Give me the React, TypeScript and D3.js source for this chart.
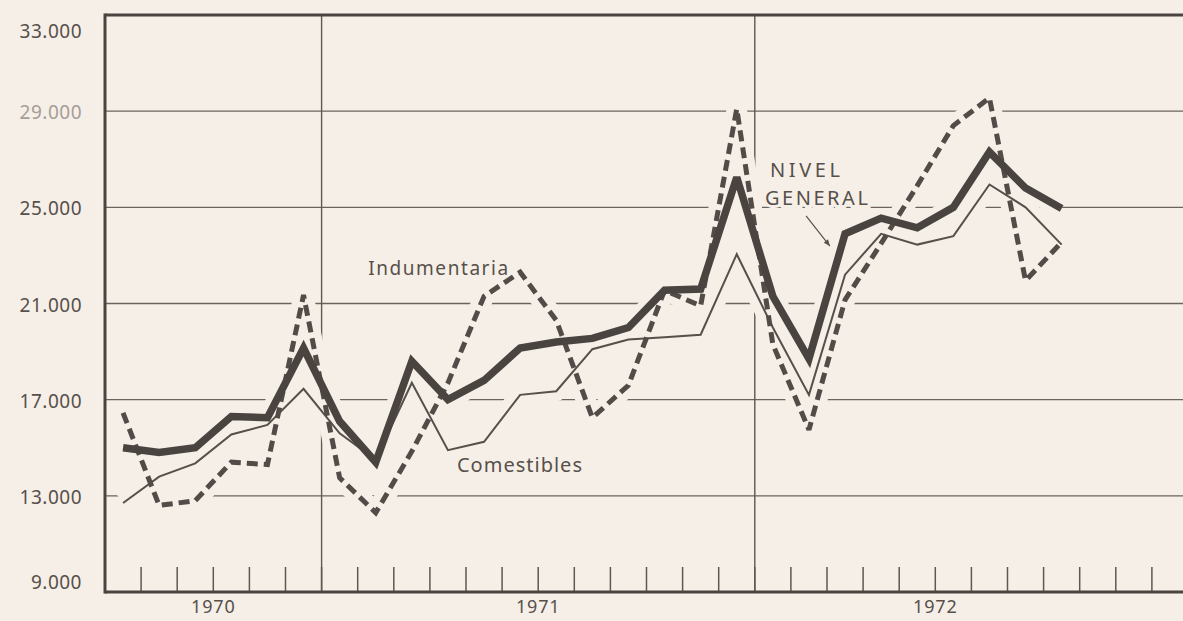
import React from "react";
import * as d3 from "d3";

// Months (mid-month points), July 1970 – September 1972
const months = [
  "Jul 1970", "Ago 1970", "Sep 1970", "Oct 1970", "Nov 1970", "Dic 1970",
  "Ene 1971", "Feb 1971", "Mar 1971", "Abr 1971", "May 1971", "Jun 1971",
  "Jul 1971", "Ago 1971", "Sep 1971", "Oct 1971", "Nov 1971", "Dic 1971",
  "Ene 1972", "Feb 1972", "Mar 1972", "Abr 1972", "May 1972", "Jun 1972",
  "Jul 1972", "Ago 1972", "Sep 1972",
];

const nivelGeneral = [
  15000, 14800, 15000, 16300, 16250, 19150,
  16100, 14400, 18600, 17000, 17800, 19150,
  19400, 19550, 20000, 21550, 21600, 26250,
  21300, 18700, 23900, 24550, 24150, 25000,
  27300, 25800, 24950,
];

const comestibles = [
  12700, 13800, 14350, 15550, 15950, 17450,
  15600, 14500, 17700, 14900, 15250, 17200,
  17350, 19100, 19500, 19600, 19700, 23050,
  20000, 17200, 22200, 23900, 23450, 23800,
  25950, 25000, 23450,
];

const indumentaria = [
  16450, 12600, 12800, 14400, 14300, 21350,
  13750, 12300, 14850, 17700, 21300, 22300,
  20300, 16250, 17600, 21550, 20900, 29100,
  19300, 15750, 21150, 23500, 25900, 28400,
  29550, 21950, 23550,
];

const yTicks = [9000, 13000, 17000, 21000, 25000, 29000, 33000];
const yTickLabels = ["9.000", "13.000", "17.000", "21.000", "25.000", "29.000", "33.000"];
// month boundaries (0 = 1 Jul 1970)
const monthBoundaries = d3.range(1, 30);
const yearGridBoundaries = [6, 18];
const yearLabels = ["1970", "1971", "1972"];
const yearLabelPositions = [3, 12, 23];

const BG = "#f6efe7";
const INK = "#4a4440";
const TEXT = "#57504b";

export default function App() {
  const W = 1183;
  const H = 621;
  const x = d3.scaleLinear().domain([0, 30]).range([105, 1188]);
  const y = d3.scaleLinear().domain([9000, 33000]).range([592, 15]);

  const line = d3
    .line<number>()
    .x((_, i) => x(i + 0.5))
    .y((d) => y(d));

  const series = [
    { n: months.length, data: comestibles, width: 2, dash: null, color: "#55504b" },
    { n: months.length, data: indumentaria, width: 5, dash: "11 6", color: "#524b47" },
    { n: months.length, data: nivelGeneral, width: 7.5, dash: null, color: INK },
  ];

  const font = "'Noto Sans', Roboto, sans-serif";

  // annotation anchors in data space
  const indLabel = { i: 7.29, v: 22190 };
  const comLabel = { i: 9.75, v: 13990 };
  const nivLabel = { i: 18.42, v: 26260 };
  const genLabel = { i: 18.28, v: 25100 };
  const arrowFrom = { i: 19.42, v: 24640 };
  const arrowTo = { i: 20.08, v: 23390 };

  const ax0 = x(arrowFrom.i), ay0 = y(arrowFrom.v);
  const ax1 = x(arrowTo.i), ay1 = y(arrowTo.v);
  const ang = Math.atan2(ay1 - ay0, ax1 - ax0);
  const ah = 7;
  const head = [
    [ax1, ay1],
    [ax1 - ah * Math.cos(ang - 0.4), ay1 - ah * Math.sin(ang - 0.4)],
    [ax1 - ah * Math.cos(ang + 0.4), ay1 - ah * Math.sin(ang + 0.4)],
  ];

  return (
    <svg
      width={W}
      height={H}
      style={{ position: "absolute", left: 0, top: 0, background: BG }}
    >
      <rect x={0} y={0} width={W} height={H} fill={BG} />
      {/* horizontal grid */}
      {yTicks.slice(1, -1).map((t) => (
        <line key={t} x1={x(0)} x2={W} y1={y(t)} y2={y(t)} stroke="#6b635d" strokeWidth={1.3} />
      ))}
      {/* vertical year grid */}
      {yearGridBoundaries.map((m) => (
        <line key={m} x1={x(m)} x2={x(m)} y1={y(33000)} y2={y(9000)} stroke="#5e5752" strokeWidth={1.4} />
      ))}
      {/* halos to break grid lines under series */}
      {series.map((s, k) => (
        <path key={"h" + k} d={line(s.data) || ""} fill="none" stroke={BG} strokeWidth={20} strokeLinejoin="round" />
      ))}
      {/* ticks */}
      {monthBoundaries.map((m) => (
        <line key={m} x1={x(m)} x2={x(m)} y1={y(9000)} y2={y(9000) - 25} stroke="#5e5752" strokeWidth={1.5} />
      ))}
      {/* frame */}
      <line x1={x(0)} x2={W} y1={y(33000)} y2={y(33000)} stroke={INK} strokeWidth={3} />
      <line x1={x(0)} x2={W} y1={y(9000)} y2={y(9000)} stroke={INK} strokeWidth={3} />
      <line x1={x(0)} x2={x(0)} y1={y(33000) - 1.5} y2={y(9000) + 1.5} stroke={INK} strokeWidth={3} />

      {/* series */}
      {series.map((s, k) => (
        <path
          key={"s" + k}
          d={line(s.data) || ""}
          fill="none"
          stroke={s.color}
          strokeWidth={s.width}
          strokeDasharray={s.dash || undefined}
          strokeLinejoin="miter"
          strokeMiterlimit={3}
        />
      ))}

      {/* y labels */}
      {yTicks.map((t, k) => {
        const yy = Math.min(Math.max(y(t), 30), 581) + 3;
        return (
          <text
            key={t}
            x={82}
            y={yy}
            textAnchor="end"
            dominantBaseline="middle"
            fontFamily={font}
            fontSize={19}
            letterSpacing={0.5}
            fill={t === 29000 ? "#a59d96" : TEXT}
          >
            {yTickLabels[k]}
          </text>
        );
      })}

      {/* year labels */}
      {yearLabels.map((l, k) => (
        <text
          key={l}
          x={x(yearLabelPositions[k])}
          y={613}
          textAnchor="middle"
          fontFamily={font}
          fontSize={18}
          letterSpacing={0.8}
          fill={TEXT}
        >
          {l}
        </text>
      ))}

      {/* series labels */}
      <text x={x(indLabel.i)} y={y(indLabel.v)} fontFamily={font} fontSize={19} fill={TEXT} textLength={140} lengthAdjust="spacing">
        Indumentaria
      </text>
      <text x={x(comLabel.i)} y={y(comLabel.v)} fontFamily={font} fontSize={20} fill={TEXT} textLength={125} lengthAdjust="spacing">
        Comestibles
      </text>
      <text x={x(nivLabel.i)} y={y(nivLabel.v)} fontFamily={font} fontSize={20} fill={TEXT} textLength={70} lengthAdjust="spacing">
        NIVEL
      </text>
      <text
        x={x(genLabel.i)}
        y={y(genLabel.v)}
        fontFamily={font}
        fontSize={20}
        fill={TEXT}
        textLength={103}
        lengthAdjust="spacing"
        stroke={BG}
        strokeWidth={6}
        paintOrder="stroke"
      >
        GENERAL
      </text>
      <line x1={ax0} y1={ay0} x2={ax1} y2={ay1} stroke={TEXT} strokeWidth={1.2} />
      <polygon points={head.map((p) => p.join(",")).join(" ")} fill={TEXT} />
    </svg>
  );
}
